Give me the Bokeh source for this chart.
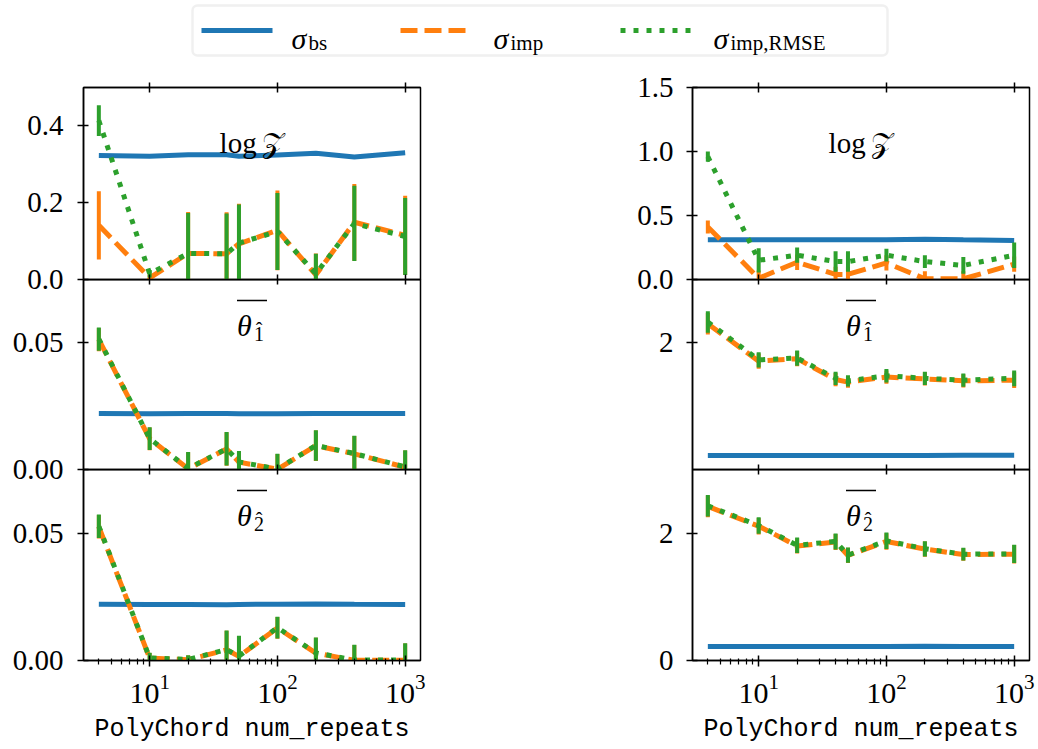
from bokeh.plotting import figure
from bokeh.layouts import column, row
from bokeh.models import (ColumnDataSource, Range1d, LogAxis, FixedTicker, Label,
                          BoxAnnotation, PrintfTickFormatter)
from bokeh.embed import file_html
from bokeh.resources import INLINE

# ---------------- data ----------------
num_repeats = [4, 10, 20, 40, 50, 100, 200, 400, 1000]

# left column, log Z
left_logz_bs = [0.323, 0.321, 0.325, 0.325, 0.321, 0.324, 0.329, 0.319, 0.330]
left_logz_imp = [0.141, 0.004, 0.068, 0.067, 0.093, 0.128, 0.012, 0.149, 0.115]
left_logz_imp_err = [0.089, 0.012, 0.108, 0.108, 0.104, 0.104, 0.056, 0.100, 0.103]
left_logz_rmse = [0.414, 0.015, 0.068, 0.067, 0.095, 0.125, 0.015, 0.146, 0.112]
left_logz_rmse_err = [0.040, 0.010, 0.105, 0.105, 0.100, 0.100, 0.052, 0.098, 0.100]

# left column, theta 1
left_t1_bs = [0.0221, 0.0220, 0.0221, 0.0221, 0.0220, 0.0220, 0.0221, 0.0221, 0.0221]
left_t1_imp = [0.0513, 0.0121, 0.0003, 0.0081, 0.0029, 0.0001, 0.0094, 0.0062, 0.0009]
left_t1_imp_err = [0.0046, 0.0045, 0.0065, 0.0066, 0.0043, 0.0060, 0.0060, 0.0070, 0.0066]
left_t1_rmse = [0.0515, 0.0122, 0.0004, 0.0082, 0.0030, 0.0002, 0.0095, 0.0063, 0.0010]
left_t1_rmse_err = [0.0046, 0.0045, 0.0065, 0.0066, 0.0043, 0.0060, 0.0060, 0.0070, 0.0066]

# left column, theta 2
left_t2_bs = [0.0221, 0.0220, 0.0220, 0.0219, 0.0220, 0.0221, 0.0222, 0.0221, 0.0220]
left_t2_imp = [0.0525, 0.0009, 0.0003, 0.0042, 0.0016, 0.0128, 0.0029, 0.0001, 0.0001]
left_t2_imp_err = [0.0046, 0.0020, 0.0017, 0.0075, 0.0080, 0.0043, 0.0060, 0.0060, 0.0066]
left_t2_rmse = [0.0527, 0.0010, 0.0004, 0.0043, 0.0017, 0.0129, 0.0030, 0.0002, 0.0002]
left_t2_rmse_err = [0.0046, 0.0020, 0.0017, 0.0075, 0.0080, 0.0043, 0.0060, 0.0060, 0.0066]

# right column, log Z
right_logz_bs = [0.310, 0.310, 0.310, 0.310, 0.310, 0.310, 0.315, 0.310, 0.305]
right_logz_imp = [0.410, 0.010, 0.135, 0.040, 0.040, 0.130, 0.005, 0.005, 0.120]
right_logz_imp_err = [0.050, 0.060, 0.060, 0.060, 0.060, 0.060, 0.060, 0.060, 0.060]
right_logz_rmse = [0.960, 0.150, 0.190, 0.140, 0.140, 0.190, 0.140, 0.110, 0.190]
right_logz_rmse_err = [0.040, 0.095, 0.060, 0.080, 0.080, 0.050, 0.050, 0.065, 0.100]

# right column, theta 1
right_t1_bs = [0.220, 0.220, 0.220, 0.220, 0.220, 0.220, 0.220, 0.225, 0.225]
right_t1_imp = [2.30, 1.71, 1.75, 1.42, 1.38, 1.46, 1.43, 1.40, 1.41]
right_t1_imp_err = [0.17, 0.12, 0.12, 0.105, 0.09, 0.105, 0.105, 0.105, 0.125]
right_t1_rmse = [2.33, 1.73, 1.76, 1.44, 1.40, 1.48, 1.44, 1.41, 1.44]
right_t1_rmse_err = [0.17, 0.12, 0.12, 0.105, 0.09, 0.105, 0.105, 0.105, 0.125]

# right column, theta 2
right_t2_bs = [0.220, 0.220, 0.220, 0.220, 0.220, 0.220, 0.222, 0.220, 0.220]
right_t2_imp = [2.42, 2.11, 1.80, 1.86, 1.65, 1.87, 1.75, 1.665, 1.67]
right_t2_imp_err = [0.17, 0.13, 0.12, 0.125, 0.12, 0.13, 0.12, 0.10, 0.145]
right_t2_rmse = [2.43, 2.12, 1.81, 1.87, 1.655, 1.88, 1.755, 1.67, 1.675]
right_t2_rmse_err = [0.17, 0.13, 0.12, 0.125, 0.12, 0.13, 0.12, 0.10, 0.145]

x_label = "PolyChord num_repeats"
legend_sub = ["bs", "imp", "imp,RMSE"]

# ---------------- style ----------------
BLUE, ORANGE, GREEN = "#1f77b4", "#ff7f0e", "#2ca02c"
SERIF = "Liberation Serif"
MONO = "Liberation Mono"
LX0, LX1 = 0.482, 3.12
FRAME_W = 337
MAJOR = [10, 100, 1000]
MINOR = [m * 10 ** e for e in range(0, 4) for m in range(2, 10)]
LW = 5


def px2x(px):
    return 10 ** (LX0 + (LX1 - LX0) * px / FRAME_W)


def panel(r, c, ylim, yticks, yfmt, series, title):
    frame_h = (192, 190, 191)[r]
    top_b = 20 if r == 0 else 0
    bot_b = 88 if r == 2 else 16
    if c == 0:
        width, lb, rb = 424, 75, 12
    else:
        width, lb, rb = 616, 271, 8
    p = figure(width=width, height=frame_h + top_b + bot_b, x_axis_type="log",
               x_range=Range1d(10 ** LX0, 10 ** LX1), y_range=Range1d(*ylim),
               output_backend="svg", toolbar_location=None,
               min_border_left=lb, min_border_right=rb,
               min_border_top=top_b, min_border_bottom=bot_b,
               background_fill_color=None, border_fill_color=None,
               outline_line_color="black", outline_line_width=1.5)
    if r > 0:
        p.margin = (-16, 0, 0, 0)
    p.xgrid.visible = False
    p.ygrid.visible = False

    def py(px_from_top):
        return ylim[1] - (ylim[1] - ylim[0]) * px_from_top / frame_h

    # y axis
    ya = p.yaxis[0]
    ya.ticker = FixedTicker(ticks=yticks, minor_ticks=[])
    ya.formatter = PrintfTickFormatter(format=yfmt)
    ya.major_tick_in = 5
    ya.major_tick_out = 6
    ya.minor_tick_in = 0
    ya.minor_tick_out = 0
    ya.major_label_standoff = 14 if c == 0 else 13
    ya.major_label_text_font = SERIF
    ya.major_label_text_font_size = "29px"
    ya.major_label_text_color = "black"
    ya.axis_line_width = 1.5
    ya.major_tick_line_width = 1.5

    # x axis (bottom)
    xa = p.xaxis[0]
    xa.axis_line_width = 1.5
    xa.major_tick_line_width = 1.5
    xa.minor_tick_line_width = 1.2
    if r == 2:
        xa.ticker = FixedTicker(ticks=MAJOR, minor_ticks=MINOR)
        xa.major_tick_in = 5
        xa.major_tick_out = 6
        xa.minor_tick_in = 2
        xa.minor_tick_out = 4
        xa.major_label_standoff = 8
        xa.major_label_text_font = SERIF
        xa.major_label_text_font_size = "30px"
        xa.major_label_text_color = "black"
        xa.axis_label = x_label
        xa.axis_label_text_font = MONO
        xa.axis_label_text_font_size = "25px"
        xa.axis_label_text_font_style = "normal"
        xa.axis_label_text_color = "black"
        xa.axis_label_standoff = 9
    else:
        xa.ticker = FixedTicker(ticks=MAJOR, minor_ticks=[])
        xa.major_tick_in = 5
        xa.major_tick_out = 5
        xa.minor_tick_in = 0
        xa.minor_tick_out = 0
        xa.major_label_overrides = {10: "", 100: "", 1000: ""}
        xa.major_label_text_font_size = "0px"
        xa.major_label_standoff = 0

    if r == 0:
        ta = LogAxis(ticker=FixedTicker(ticks=MAJOR, minor_ticks=[]),
                     major_tick_in=5, major_tick_out=5, minor_tick_in=0, minor_tick_out=0,
                     major_label_overrides={10: "", 100: "", 1000: ""},
                     major_label_text_font_size="0px", major_label_standoff=0,
                     axis_line_width=1.5, major_tick_line_width=1.5)
        p.add_layout(ta, "above")

    bs, imp, imp_err, rmse, rmse_err = series
    p.line(num_repeats, bs, line_color=BLUE, line_width=LW)
    s_imp = ColumnDataSource(dict(x=num_repeats, y=imp,
                                  lo=[v - e for v, e in zip(imp, imp_err)],
                                  hi=[v + e for v, e in zip(imp, imp_err)]))
    s_rmse = ColumnDataSource(dict(x=num_repeats, y=rmse,
                                   lo=[v - e for v, e in zip(rmse, rmse_err)],
                                   hi=[v + e for v, e in zip(rmse, rmse_err)]))
    p.segment(x0="x", y0="lo", x1="x", y1="hi", source=s_imp, line_color=ORANGE, line_width=4)
    p.line("x", "y", source=s_imp, line_color=ORANGE, line_width=LW, line_dash="17 7")
    p.segment(x0="x", y0="lo", x1="x", y1="hi", source=s_rmse, line_color=GREEN, line_width=4)
    p.line("x", "y", source=s_rmse, line_color=GREEN, line_width=LW, line_dash="5 8")

    cx = FRAME_W / 2
    if title == "logz":
        p.add_layout(Label(x=px2x(cx), y=py(55), text="log\u2009\U0001D4B5", text_align="center",
                           text_baseline="alphabetic", text_font=SERIF, text_font_size="29px",
                           text_color="black"))
    else:
        p.add_layout(Label(x=px2x(cx - 15), y=py(46), text="\u03b8", text_align="left",
                           text_baseline="alphabetic", text_font=SERIF, text_font_size="30px",
                           text_font_style="italic", text_color="black"))
        p.add_layout(Label(x=px2x(cx + 2), y=py(54), text=title, text_align="left",
                           text_baseline="alphabetic", text_font=SERIF, text_font_size="20px",
                           text_color="black"))
        p.add_layout(Label(x=px2x(cx + 7), y=py(50), text="\u02c6", text_align="center",
                           text_baseline="alphabetic", text_font=SERIF, text_font_size="20px",
                           text_color="black"))
        p.add_layout(BoxAnnotation(left=px2x(cx - 15), right=px2x(cx + 15),
                                   top=py(20.2), bottom=py(21.8),
                                   fill_color="black", fill_alpha=1.0, line_color=None))
    return p


fL1 = panel(0, 0, (0, 0.5), [0, 0.2, 0.4], "%.1f",
            (left_logz_bs, left_logz_imp, left_logz_imp_err, left_logz_rmse, left_logz_rmse_err), "logz")
fL2 = panel(1, 0, (0, 0.075), [0, 0.05], "%.2f",
            (left_t1_bs, left_t1_imp, left_t1_imp_err, left_t1_rmse, left_t1_rmse_err), "1")
fL3 = panel(2, 0, (0, 0.075), [0, 0.05], "%.2f",
            (left_t2_bs, left_t2_imp, left_t2_imp_err, left_t2_rmse, left_t2_rmse_err), "2")
fR1 = panel(0, 1, (0, 1.5), [0, 0.5, 1.0, 1.5], "%.1f",
            (right_logz_bs, right_logz_imp, right_logz_imp_err, right_logz_rmse, right_logz_rmse_err), "logz")
fR2 = panel(1, 1, (0, 3), [2], "%.0f",
            (right_t1_bs, right_t1_imp, right_t1_imp_err, right_t1_rmse, right_t1_rmse_err), "1")
fR3 = panel(2, 1, (0, 3), [0, 2], "%.0f",
            (right_t2_bs, right_t2_imp, right_t2_imp_err, right_t2_rmse, right_t2_rmse_err), "2")

# ---------------- legend ----------------
leg = figure(width=1022, height=67, x_range=Range1d(0, 1022), y_range=Range1d(0, 67),
             output_backend="svg", toolbar_location=None, x_axis_type=None, y_axis_type=None,
             min_border=0, outline_line_color=None, background_fill_color=None,
             border_fill_color=None)
leg.add_layout(BoxAnnotation(left=184, right=879, bottom=12, top=62, fill_color="white",
                             fill_alpha=1.0, line_color="#cccccc", line_width=2.5,
                             border_radius=5, level="underlay"))
leg.line([193, 264], [37, 37], line_color=BLUE, line_width=LW)
leg.line([392, 463], [37, 37], line_color=ORANGE, line_width=LW, line_dash="17 7")
leg.line([612, 683], [37, 37], line_color=GREEN, line_width=LW, line_dash="5 8")
for sx, sub in zip([283, 485, 705], legend_sub):
    leg.add_layout(Label(x=sx, y=29, text="\u03c3", text_font=SERIF, text_font_size="30px",
                         text_font_style="italic", text_baseline="alphabetic", text_color="black"))
    leg.add_layout(Label(x=sx + 17, y=25, text=sub, text_font=SERIF, text_font_size="21px",
                         text_baseline="alphabetic", text_color="black"))

col_left = column(fL1, fL2, fL3)
col_right = column(fR1, fR2, fR3)
col_right.margin = (0, 0, 0, -11)
layout = column(leg, row(col_left, col_right))
layout.margin = (0, 0, 0, 8)

open("out.html", "w").write(file_html(layout, INLINE))
